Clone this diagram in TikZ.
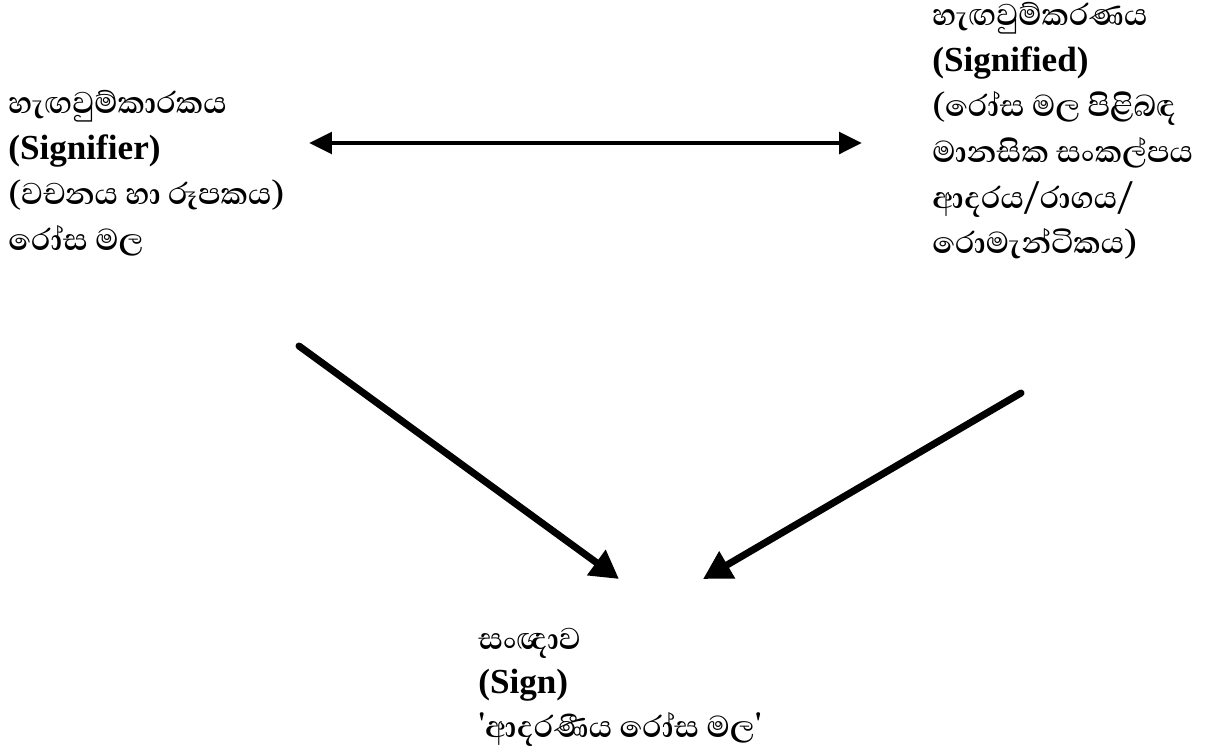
\documentclass[tikz,border=0pt]{standalone}
\usepackage{fontspec}
\setmainfont{Liberation Serif}
\newfontfamily\sinhfont[Script=Sinhala]{Abhaya Libre}
\usetikzlibrary{arrows.meta,positioning}

\tikzset{
    lbl/.style={anchor=north west, inner sep=0pt, align=left,
        font=\sinhfont\bfseries\fontsize{22}{26}\selectfont},
    dbl/.style={line width=2.8pt, {Triangle[length=13pt,width=12pt]}-{Triangle[length=13pt,width=12pt]}},
    heavy/.style={line width=4pt, line cap=round, -{Triangle[length=16pt,width=17pt]}}
}
\newcommand{\latn}[1]{{\rmfamily\fontsize{20}{26}\selectfont #1}}

\begin{document}
\begin{tikzpicture}[x=0.02cm,y=-0.02cm]
    \useasboundingbox (0,0) rectangle (1210,751);

    \node[lbl] (sfr) at (8,90) {හැඟවුම්කාරකය\\
        \latn{(Signifier)}\\
        (වචනය හා රූපකය)\\
        රෝස මල};
    \node[lbl] (sfd) at (932,2) {හැඟවුම්කරණය\\
        \latn{(Signified)}\\
        (රෝස මල පිළිබඳ\\
        මානසික සංකල්පය\\
        ආදරය/රාගය/\\
        රොමැන්ටිකය)};
    \node[lbl, font=\sinhfont\bfseries\fontsize{22}{25}\selectfont] (sgn) at (478,628) {සංඥාව\\
        \latn{(Sign)}\\
        'ආදරණීය රෝස මල'};

    % arrow ends
    \coordinate (sfrR) at (309,143);
    \coordinate (sfdL) at (862,143);
    \coordinate (sfrB) at (299,346);
    \coordinate (sfdB) at (1021,393);
    \coordinate (sgnL) at (619,579);
    \coordinate (sgnR) at (703,579);

    \draw[dbl] (sfrR) -- (sfdL);
    \draw[heavy] (sfrB) -- (sgnL);
    \draw[heavy] (sfdB) -- (sgnR);
\end{tikzpicture}
\end{document}
